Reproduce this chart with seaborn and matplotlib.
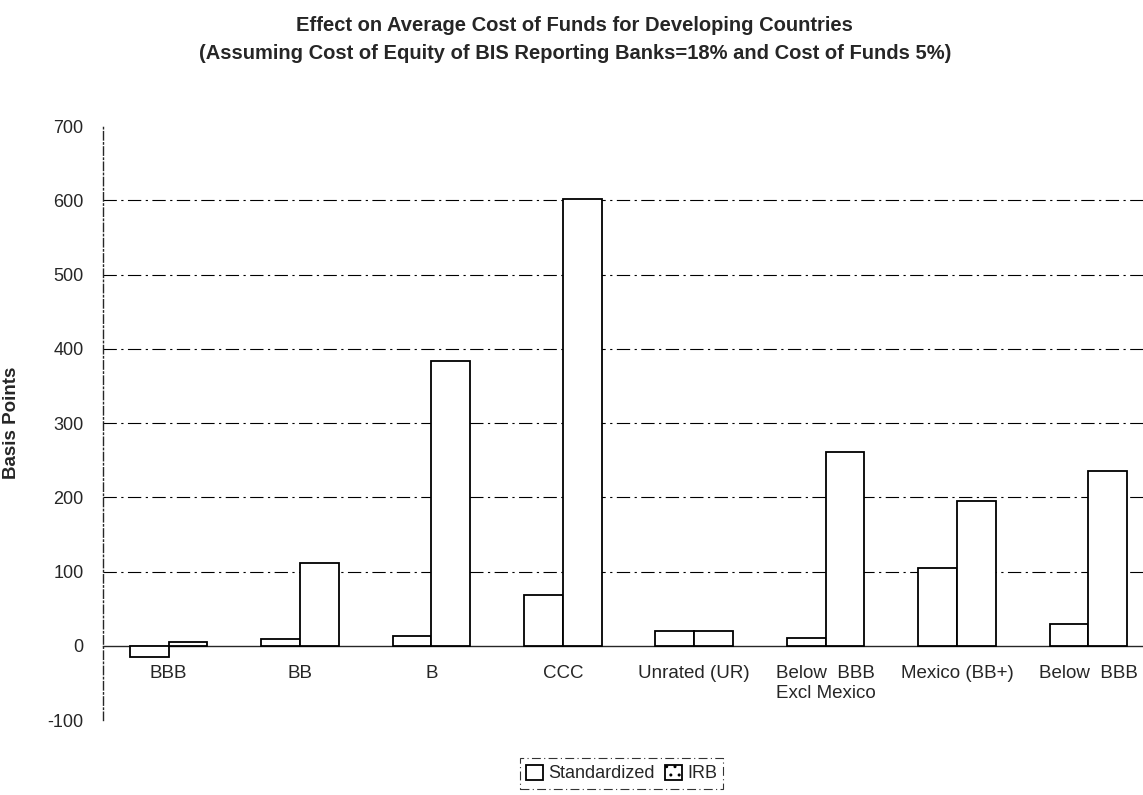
import matplotlib
matplotlib.use("Agg")
from matplotlib import pyplot as plt
import pandas as pd
import seaborn as sns

sns.set_style("white")
plt.rcParams["font.family"] = ["Liberation Sans", "DejaVu Sans"]

categories = ["BBB", "BB", "B", "CCC", "Unrated (UR)", "Below  BBB\nExcl Mexico",
              "Mexico (BB+)", "Below  BBB"]
standardized = [-15, 9, 13, 69, 20, 10, 105, 30]
irb = [5, 111, 383, 602, 20, 261, 195, 235]
series = ["Standardized", "IRB"]
y_ticks = [-100, 0, 100, 200, 300, 400, 500, 600, 700]

df = pd.DataFrame({
    "category": categories * 2,
    "series": [series[0]] * len(categories) + [series[1]] * len(categories),
    "value": standardized + irb,
})

fig = plt.figure(figsize=(11.43, 7.95), dpi=100)
ax = fig.add_axes([0.0901, 0.0943, 0.9196, 0.7472])

sns.barplot(data=df, x="category", y="value", hue="series", order=categories,
            hue_order=series, palette=["white", "white"], edgecolor="black",
            linewidth=1.3, width=0.59, gap=0, ax=ax, legend=True)

ax.set_ylim(-100, 700)
ax.set_xlim(-0.5, len(categories) - 0.5)
ax.set_yticks(y_ticks)
ax.set_yticklabels([str(v) for v in y_ticks], fontsize=13)
ax.tick_params(axis="y", direction="out", length=4, width=0.8, color="black", pad=10)
ax.tick_params(axis="x", length=0, pad=14, labelsize=13.5)
for lab in ax.get_xticklabels():
    lab.set_color("#222222")
ax.set_xlabel("")
ax.set_ylabel("Basis Points", fontsize=13.5, fontweight="bold", labelpad=20)

# dash-dot gridlines, skipping -100, 0 and 700
ax.yaxis.grid(True, linestyle=(0, (12, 4, 2, 4)), color="black", linewidth=0.8)
ax.set_axisbelow(True)
for tick_val, gl in zip(ax.get_yticks(), ax.get_ygridlines()):
    if tick_val in (-100, 0, 700):
        gl.set_visible(False)

for s in ["top", "right"]:
    ax.spines[s].set_visible(False)
ax.spines["left"].set_linestyle((0, (6, 2, 1, 2)))
ax.spines["left"].set_linewidth(1.0)
ax.spines["bottom"].set_position(("data", 0))
ax.spines["bottom"].set_linewidth(1.0)
ax.spines["bottom"].set_zorder(0.5)

handles, labels = ax.get_legend_handles_labels()
ax.get_legend().remove()
handles[1].set_hatch("..")
leg = fig.legend(handles, labels, loc="center", bbox_to_anchor=(0.544, 0.027),
                 ncol=2, frameon=True, fancybox=False, fontsize=13,
                 handlelength=0.9, handleheight=0.9, handletextpad=0.3,
                 columnspacing=0.6, borderpad=0.35)
leg.get_frame().set_edgecolor("black")
leg.get_frame().set_linewidth(0.8)
leg.get_frame().set_linestyle((0, (8, 3, 1, 3)))

fig.text(0.503, 0.968, "Effect on Average Cost of Funds for Developing Countries",
         ha="center", va="center", fontsize=14.5, fontweight="bold")
fig.text(0.503, 0.933,
         "(Assuming Cost of Equity of BIS Reporting Banks=18% and Cost of Funds 5%)",
         ha="center", va="center", fontsize=14.5, fontweight="bold")

fig.savefig("out.png", dpi=100)
